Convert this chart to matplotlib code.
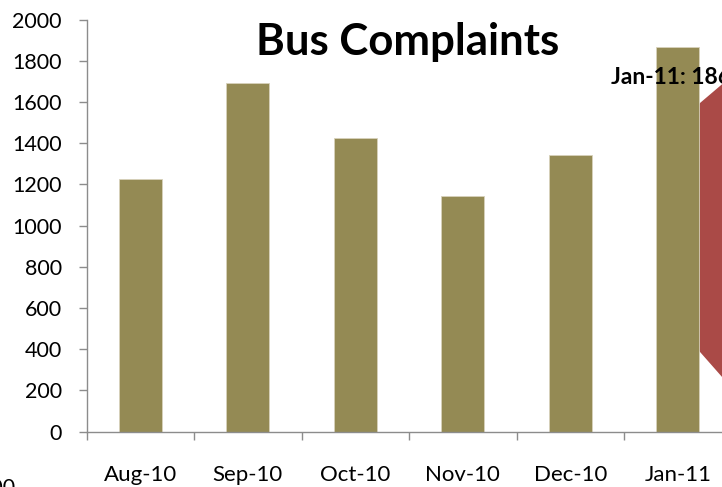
import matplotlib
matplotlib.use("Agg")
import matplotlib.pyplot as plt
from matplotlib.patches import Polygon
import numpy as np

plt.rcParams['font.family'] = ['Lato', 'DejaVu Sans']

months = ["Aug-10", "Sep-10", "Oct-10", "Nov-10", "Dec-10", "Jan-11"]
complaints = [1225, 1693, 1424, 1143, 1343, 1866]
y_ticks = list(range(0, 2001, 200))
highlight = "Jan-11"

W, H = 722, 487
fig = plt.figure(figsize=(W / 100, H / 100), dpi=100)
fig.patch.set_facecolor("white")

def px(x, y):
    return (x / W, 1 - y / H)

left, right, top, bottom = 86.5, 722, 19.7, 431.7
ax = fig.add_axes([left / W, 1 - bottom / H, (right - left) / W, (bottom - top) / H])
ax.set_facecolor("none")

# shape partly hidden behind the last bar
shape = Polygon([px(690, 111.5), px(730, 77.5), px(730, 386), px(690, 340.6)],
                closed=True, transform=fig.transFigure, facecolor="#AA4A47",
                edgecolor="none", zorder=-1)
fig.patches.append(shape)

x = np.arange(len(months))
ax.bar(x, complaints, width=0.4, color="#948A54", edgecolor="#d8d2bc",
       linewidth=0.6, zorder=2)

gray = "#8c8c8c"
for s in ["top", "right"]:
    ax.spines[s].set_visible(False)
for s in ["left", "bottom"]:
    ax.spines[s].set_color(gray)
    ax.spines[s].set_linewidth(1.0)

ax.set_yticks(y_ticks)
ax.set_yticklabels([str(v) for v in y_ticks])
ax.tick_params(axis="y", direction="out", length=5.8, width=1.0, color=gray,
               labelsize=15.5, pad=12, labelcolor="black")

ax.set_xticks(x)
ax.set_xticklabels(months)
ax.tick_params(axis="x", which="major", length=0, labelsize=16, pad=24,
               labelcolor="black")
ax.set_xticks(np.arange(-0.5, len(months) + 0.5, 1), minor=True)
ax.tick_params(axis="x", which="minor", direction="out", length=5.5, width=1.0,
               color=gray)

# category slots are 107.5 px wide; the plot runs off the right edge
ax.set_xlim(-0.5, -0.5 + (right - left) / 107.5)
ax.set_ylim(0, 2000)

fig.text(408 / W, 1 - 42 / H, "Bus Complaints", ha="center", va="center",
         fontsize=31.5, fontweight="bold")

i = months.index(highlight)
ax.annotate(f"{months[i]}: {complaints[i]}", xy=(x[i], complaints[i]),
            xytext=(0, -30), textcoords="offset pixels", ha="center",
            va="center", fontsize=16.5, fontweight="bold", zorder=5,
            annotation_clip=False)

# partially visible label at the lower-left edge
fig.text(15 / W, 1 - 478 / H, "200", ha="right", va="top", fontsize=15.5)

fig.savefig("out.png", dpi=100)
